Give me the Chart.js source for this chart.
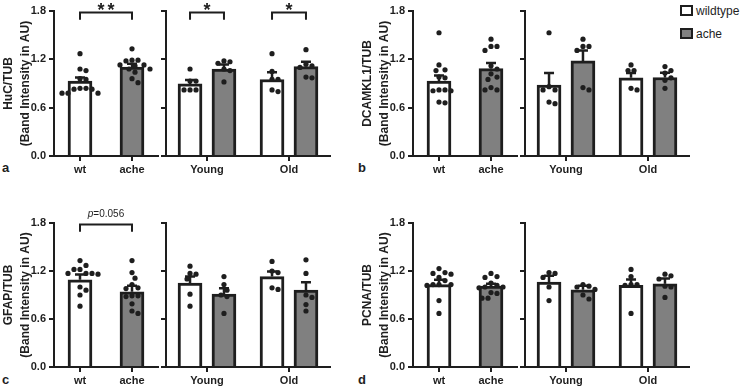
<!DOCTYPE html>
<html>
<head>
<meta charset="utf-8">
<script src="https://cdn.jsdelivr.net/npm/chart.js@4.4.1/dist/chart.umd.min.js"></script>
<style>
  body { margin: 0; width: 741px; height: 391px; background: #fff; position: relative; overflow: hidden;
         font-family: "Liberation Sans", Arial, sans-serif; color: #1e1e1e; }
  canvas { position: absolute; }
  .panel { position: absolute; font-size: 13px; font-weight: bold; line-height: 13px; }
  .key { position: absolute; left: 680px; font-size: 12px; line-height: 12px; white-space: nowrap; }
  .key span { display: inline-block; width: 13px; height: 11px; box-sizing: border-box; border: 2px solid #1e1e1e;
              vertical-align: -1px; margin-right: 3px; }
</style>
</head>
<body>
<div class="panel" style="left:2px;top:161px">a</div>
<div class="panel" style="left:358px;top:161px">b</div>
<div class="panel" style="left:2px;top:373px">c</div>
<div class="panel" style="left:358px;top:373px">d</div>
<div class="key" style="top:5px"><span style="background:#fff"></span>wildtype</div>
<div class="key" style="top:28px"><span style="background:#808080"></span>ache</div>
<script>
const FONT = '"Liberation Sans", Arial, sans-serif';
Chart.defaults.font.family = FONT;
Chart.defaults.color = '#1e1e1e';

const genotypes = ['wt', 'ache'];
const ages = ['Young', 'Old'];
const yTicks = [0, 0.6, 1.2, 1.8];

// a: HuC/TUB
const hucMean = [0.93, 1.105];
const hucSem = [0.045, 0.04];
const hucWt = [1.27, 1.06, 1.08, 0.96, 0.95, 0.84, 0.83, 0.84, 0.83, 0.78, 0.78, 0.78];
const hucAche = [1.33, 1.19, 1.18, 1.19, 1.13, 1.12, 1.13, 1.08, 1.08, 1.04, 0.96, 0.91];
const hucAgeWtMean = [0.895, 0.95];
const hucAgeWtSem = [0.05, 0.09];
const hucAgeAcheMean = [1.08, 1.11];
const hucAgeAcheSem = [0.055, 0.06];
const hucAgeWt = [[1.08, 0.93, 0.93, 0.82, 0.82, 0.82], [1.27, 1.05, 0.95, 0.95, 0.80, 0.82]];
const hucAgeAche = [[1.18, 1.15, 1.17, 1.08, 1.06, 0.92], [1.32, 1.12, 1.14, 1.10, 0.97, 0.98]];

// b: DCAMKL1/TUB
const dcMean = [0.93, 1.085];
const dcSem = [0.07, 0.07];
const dcWt = [1.53, 1.13, 1.06, 1.07, 0.97, 0.98, 0.82, 0.81, 0.82, 0.81, 0.66, 0.67];
const dcAche = [1.45, 1.36, 1.36, 1.31, 1.12, 1.08, 1.02, 0.98, 0.95, 0.85, 0.82, 0.82];
const dcAgeWtMean = [0.88, 0.97];
const dcAgeWtSem = [0.15, 0.06];
const dcAgeAcheMean = [1.18, 0.975];
const dcAgeAcheSem = [0.13, 0.06];
const dcAgeWt = [[1.53, 0.82, 0.86, 0.82, 0.65, 0.67], [1.13, 1.06, 1.06, 0.82, 0.84]];
const dcAgeAche = [[1.45, 1.36, 1.36, 1.31, 0.82, 0.85], [1.11, 1.06, 1.03, 0.97, 0.94, 0.84]];

// c: GFAP/TUB
const gfMean = [1.09, 0.94];
const gfSem = [0.065, 0.075];
const gfWt = [1.33, 1.27, 1.22, 1.22, 1.17, 1.17, 1.17, 1.16, 1.0, 0.96, 0.90, 0.76];
const gfAche = [1.33, 1.18, 1.11, 1.03, 0.98, 0.99, 0.89, 0.88, 0.89, 0.79, 0.67, 0.70];
const gfAgeWtMean = [1.05, 1.13];
const gfAgeWtSem = [0.08, 0.065];
const gfAgeAcheMean = [0.91, 0.96];
const gfAgeAcheSem = [0.075, 0.10];
const gfAgeWt = [[1.26, 1.17, 1.16, 1.10, 0.91, 0.76], [1.32, 1.20, 1.18, 0.97, 0.99]];
const gfAgeAche = [[1.13, 1.03, 0.96, 0.90, 0.88, 0.67], [1.34, 1.17, 0.90, 0.87, 0.78, 0.70]];

// d: PCNA/TUB
const pcMean = [1.03, 1.01];
const pcSem = [0.06, 0.03];
const pcWt = [1.23, 1.18, 1.17, 1.16, 1.12, 1.08, 1.03, 1.03, 1.02, 1.03, 0.83, 0.67];
const pcAche = [1.17, 1.13, 1.12, 1.05, 1.02, 1.00, 1.00, 0.99, 0.93, 0.92, 0.86, 0.86];
const pcAgeWtMean = [1.06, 1.02];
const pcAgeWtSem = [0.08, 0.075];
const pcAgeAcheMean = [0.965, 1.04];
const pcAgeAcheSem = [0.05, 0.065];
const pcAgeWt = [[1.17, 1.18, 1.12, 1.00, 0.83], [1.22, 1.13, 1.03, 1.03, 1.02, 0.67]];
const pcAgeAche = [[1.03, 1.01, 1.00, 0.97, 0.90, 0.85], [1.16, 1.14, 1.10, 1.01, 1.00, 0.87]];

const INK = '#1e1e1e';
const WT_FILL = '#ffffff';
const ACHE_FILL = '#808080';
const BAR_OFF = 0.207;          // half gap between the two bars of an age group (x units)
const TOP_ROW = { top: 11, bottom: 156, pad: 11 };
const BOTTOM_ROW = { top: 223, bottom: 367, pad: 23 };
const X_AXIS_H = 26;
const PX_PER_VALUE = 80;

// simple prism-like scatter: spread dots sideways when they would overlap
function swarm(values, cx, pxPerX) {
  const placed = [];
  const out = [];
  const order = values.map((v, i) => i).sort((a, b) => values[b] - values[a]);
  order.forEach(i => {
    const py = values[i] * PX_PER_VALUE;
    for (let k = 0; k < 40; k++) {
      const off = (k % 2 ? 1 : -1) * Math.ceil(k / 2) * 3;
      if (placed.every(p => Math.hypot(p[0] - off, p[1] - py) >= 6)) {
        placed.push([off, py]);
        out.push({ x: cx + off / pxPerX, y: values[i] });
        break;
      }
    }
  });
  return out;
}

function addCanvas(left, row, width) {
  const c = document.createElement('canvas');
  c.width = width;
  c.height = row.pad + (row.bottom - row.top) + X_AXIS_H;
  c.style.left = left + 'px';
  c.style.top = (row.top - row.pad) + 'px';
  document.body.appendChild(c);
  return c;
}

const errorBars = {
  id: 'errorBars',
  afterDatasetDraw(chart, args) {
    const ds = chart.data.datasets[args.index];
    if (!ds.errors) return;
    const ctx = chart.ctx, y = chart.scales.y;
    ctx.save();
    ctx.strokeStyle = INK;
    ctx.lineWidth = 2.5;
    args.meta.data.forEach((bar, i) => {
      const top = y.getPixelForValue(ds.data[i].y + ds.errors[i]);
      ctx.beginPath();
      ctx.moveTo(bar.x, bar.y);
      ctx.lineTo(bar.x, top);
      ctx.moveTo(bar.x - 5, top);
      ctx.lineTo(bar.x + 5, top);
      ctx.stroke();
    });
    ctx.restore();
  }
};

const brackets = {
  id: 'brackets',
  afterDraw(chart, args, opts) {
    const { ctx, scales: { x, y } } = chart;
    (opts.items || []).forEach(b => {
      const x1 = x.getPixelForValue(b.from), x2 = x.getPixelForValue(b.to);
      const yl = y.getPixelForValue(1.78), yd = y.getPixelForValue(1.69);
      const cx = (x1 + x2) / 2;
      ctx.save();
      ctx.strokeStyle = INK;
      ctx.lineWidth = 2;
      ctx.beginPath();
      ctx.moveTo(x1, yd); ctx.lineTo(x1, yl); ctx.lineTo(x2, yl); ctx.lineTo(x2, yd);
      ctx.stroke();
      ctx.fillStyle = INK;
      if (b.text[0] === 'p') {
        const rest = b.text.slice(1);
        ctx.font = 'italic 10px ' + FONT;
        const w1 = ctx.measureText('p').width;
        ctx.font = '10px ' + FONT;
        const w2 = ctx.measureText(rest).width;
        const sx = cx - (w1 + w2) / 2;
        ctx.textBaseline = 'middle';
        ctx.font = 'italic 10px ' + FONT;
        ctx.fillText('p', sx, yl - 10);
        ctx.font = '10px ' + FONT;
        ctx.fillText(rest, sx + w1, yl - 10);
      } else {
        ctx.font = 'bold 18px ' + FONT;
        ctx.textAlign = 'center';
        const chars = [...b.text];
        chars.forEach((c, j) => ctx.fillText(c, cx + (j - (chars.length - 1) / 2) * 10, yl + 3));
      }
      ctx.restore();
    });
  }
};

function yScale(withLabels, title) {
  return {
    type: 'linear', min: yTicks[0], max: yTicks[yTicks.length - 1],
    afterBuildTicks: s => { s.ticks = yTicks.map(v => ({ value: v })); },
    ticks: { display: withLabels, callback: v => v.toFixed(1), font: { size: 11, weight: 'bold' }, color: INK, padding: 3 },
    grid: { drawOnChartArea: false, drawTicks: true, tickLength: 5, color: INK, lineWidth: 2 },
    border: { color: INK, width: 2 },
    title: title
      ? { display: true, text: title, font: { size: 12, weight: 'bold', lineHeight: 1.35 }, color: INK, padding: { top: 1, bottom: 0 } }
      : { display: false },
    afterFit: s => { s.width = withLabels ? 54 : 8; }
  };
}

function xScale(labels) {
  return {
    type: 'linear', min: -0.5, max: 1.5, offset: false,
    afterBuildTicks: s => { s.ticks = labels.map((l, i) => ({ value: i })); },
    ticks: { callback: (v, i) => labels[i], autoSkip: false, maxRotation: 0, font: { size: 11, weight: 'bold' }, color: INK, padding: 2 },
    grid: { offset: false, drawOnChartArea: false, drawTicks: true, tickLength: 5, color: INK, lineWidth: 2 },
    border: { color: INK, width: 2 },
    afterFit: s => { s.height = X_AXIS_H; }
  };
}

function options(row, withLabels, title, labels, items) {
  return {
    responsive: false, animation: false, devicePixelRatio: 1,
    layout: { padding: { top: row.pad, right: 4, left: 0, bottom: 0 } },
    plugins: { legend: { display: false }, tooltip: { enabled: false }, brackets: { items: items } },
    scales: { x: xScale(labels), y: yScale(withLabels, title) }
  };
}

const dotStyle = { type: 'scatter', pointRadius: 2.6, pointBackgroundColor: INK, pointBorderWidth: 0, order: 0 };
const barStyle = { borderColor: INK, borderWidth: 3, barThickness: 24, grouped: false, order: 1 };

function genotypeChart(y0, row, title, mean, sem, wtDots, acheDots, mark) {
  new Chart(addCanvas(y0 - 54, row, 162), {
    type: 'bar',
    data: {
      datasets: [
        Object.assign({ data: genotypes.map((g, i) => ({ x: i, y: mean[i] })), errors: sem, backgroundColor: [WT_FILL, ACHE_FILL] }, barStyle),
        Object.assign({ data: swarm(wtDots, 0, 52).concat(swarm(acheDots, 1, 52)) }, dotStyle)
      ]
    },
    options: options(row, true, title, genotypes, mark ? [{ from: 0, to: 1, text: mark }] : []),
    plugins: [errorBars, brackets]
  });
}

function ageChart(y0, row, wtMean, wtSem, acheMean, acheSem, wtDots, acheDots, marks) {
  const items = [];
  (marks || []).forEach((m, i) => { if (m) items.push({ from: i - BAR_OFF, to: i + BAR_OFF, text: m }); });
  const dots = wtDots.flatMap((d, i) => swarm(d, i - BAR_OFF, 82))
    .concat(acheDots.flatMap((d, i) => swarm(d, i + BAR_OFF, 82)));
  new Chart(addCanvas(y0 + 104, row, 176), {
    type: 'bar',
    data: {
      datasets: [
        Object.assign({ data: ages.map((a, i) => ({ x: i - BAR_OFF, y: wtMean[i] })), errors: wtSem, backgroundColor: WT_FILL }, barStyle),
        Object.assign({ data: ages.map((a, i) => ({ x: i + BAR_OFF, y: acheMean[i] })), errors: acheSem, backgroundColor: ACHE_FILL }, barStyle),
        Object.assign({ data: dots }, dotStyle)
      ]
    },
    options: options(row, false, null, ages, items),
    plugins: [errorBars, brackets]
  });
}

genotypeChart(54, TOP_ROW, ['HuC/TUB', '(Band Intensity in AU)'], hucMean, hucSem, hucWt, hucAche, '**');
ageChart(54, TOP_ROW, hucAgeWtMean, hucAgeWtSem, hucAgeAcheMean, hucAgeAcheSem, hucAgeWt, hucAgeAche, ['*', '*']);

genotypeChart(413, TOP_ROW, ['DCAMKL1/TUB', '(Band Intensity in AU)'], dcMean, dcSem, dcWt, dcAche, null);
ageChart(413, TOP_ROW, dcAgeWtMean, dcAgeWtSem, dcAgeAcheMean, dcAgeAcheSem, dcAgeWt, dcAgeAche, null);

genotypeChart(54, BOTTOM_ROW, ['GFAP/TUB', '(Band Intensity in AU)'], gfMean, gfSem, gfWt, gfAche, 'p=0.056');
ageChart(54, BOTTOM_ROW, gfAgeWtMean, gfAgeWtSem, gfAgeAcheMean, gfAgeAcheSem, gfAgeWt, gfAgeAche, null);

genotypeChart(413, BOTTOM_ROW, ['PCNA/TUB', '(Band Intensity in AU)'], pcMean, pcSem, pcWt, pcAche, null);
ageChart(413, BOTTOM_ROW, pcAgeWtMean, pcAgeWtSem, pcAgeAcheMean, pcAgeAcheSem, pcAgeWt, pcAgeAche, null);
</script>
</body>
</html>
